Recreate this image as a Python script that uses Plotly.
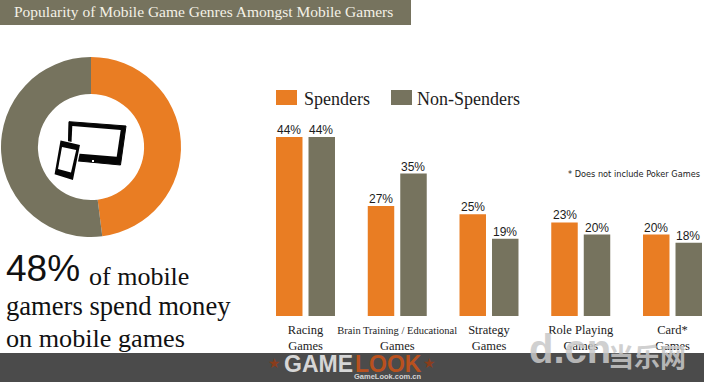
import plotly.graph_objects as go

W, H = 704, 383
categories = ["Racing<br>Games", "<span style='font-size:10.5px'>Brain Training / Educational</span><br>Games",
              "Strategy<br>Games", "Role Playing<br>Games", "Card*<br>Games"]
spenders = [44, 27, 25, 23, 20]
non_spenders = [44, 35, 19, 20, 18]
donut_labels = ["Spend money", "Do not spend"]
donut_values = [48, 52]
series_names = ["Spenders", "Non-Spenders"]
ORANGE, OLIVE = "#E97D23", "#76735E"
SERIF = "Liberation Serif"
SANS = "Liberation Sans"


def px(x):
    return x / W


def py(y):
    return 1 - y / H


def poly(points, fill, line=None, width=0):
    d = "M" + "L".join(f"{px(x):.5f},{py(y):.5f}" for x, y in points) + "Z"
    return dict(type="path", xref="paper", yref="paper", path=d, fillcolor=fill,
                line=dict(color=line or fill, width=width), layer="above")


def rect(x0, y0, x1, y1, fill, layer="above"):
    return dict(type="rect", xref="paper", yref="paper", x0=px(x0), x1=px(x1),
                y0=py(y1), y1=py(y0), fillcolor=fill, line=dict(width=0), layer=layer)


def note(x, y, text, size, color="#1c1c1c", family=SERIF, anchor="left", opacity=1):
    return dict(xref="paper", yref="paper", x=px(x), y=py(y), text=text, showarrow=False,
                xanchor=anchor, yanchor="middle", opacity=opacity, align="left",
                font=dict(size=size, color=color, family=family))


fig = go.Figure()
fig.add_trace(go.Pie(labels=donut_labels, values=donut_values, hole=0.59, sort=False,
                     direction="clockwise", rotation=0, textinfo="none", showlegend=False,
                     marker=dict(colors=[ORANGE, OLIVE], line=dict(width=0)),
                     domain=dict(x=[px(1), px(181)], y=[py(237), py(57)])))
for name, vals, col in zip(series_names, [spenders, non_spenders], [ORANGE, OLIVE]):
    fig.add_trace(go.Bar(name=name, x=categories, y=vals, marker=dict(color=col, line=dict(width=0)),
                         showlegend=False))

shapes = [
    rect(0, 0, 411, 25, OLIVE),
    rect(0, 353, 704, 382, "#4B4B4B"),
    rect(276, 90, 297, 105, ORANGE),
    rect(391, 90, 412, 105, OLIVE),
    # tablet
    poly([(69, 121.7), (126, 126), (120.5, 165), (68, 160)], "#050505", width=1),
    poly([(72.3, 126), (120.7, 130), (116.7, 156.7), (71, 153)], "#ffffff"),
    poly([(92, 160), (94, 160), (94, 162), (92, 162)], "#ffffff"),
    # phone
    poly([(60, 139.5), (81.5, 144), (74, 181.5), (52.5, 176)], "#ffffff"),
    poly([(61.5, 142), (78.5, 146), (72, 178.5), (56, 173.5)], "#050505", width=2.5),
    poly([(62, 147), (76.2, 150), (71, 172.5), (58, 169)], "#ffffff"),
]

annotations = [
    note(12, 11, "Popularity of Mobile Game Genres Amongst Mobile Gamers", 15.5, "#f4f1e6"),
    note(301.5, 99, series_names[0], 18),
    note(414.5, 99, series_names[1], 18),
    note(565.5, 174, "* Does not include Poker Games", 8.2, "#222222", "DejaVu Sans"),
    note(4, 268, "48%", 37, "#111111", SANS),
    note(87, 276, "of mobile", 26, "#111111"),
    note(4, 306, "gamers spend money", 26.6, "#111111"),
    note(4, 338, "on mobile games", 26.2, "#111111"),
    note(282, 364, "<b>GAME</b>", 23, "#d6d6d6", SANS),
    note(353, 364, "<b>LOOK</b>", 23, "#B9511E", SANS),
    note(266, 363, "★", 14, "#8a3d1c", "DejaVu Sans"),
    note(421, 363, "★", 14, "#8a3d1c", "DejaVu Sans"),
    note(352, 376, "<b>GameLook.com.cn</b>", 7.5, "#d6d6d6", SANS),
    note(527, 349, "<b>d.cn</b>", 40, "#c8c8c8", SANS, opacity=0.85),
    note(606, 355, "<b>当乐网</b>", 26, "#c8c8c8", "Noto Sans CJK SC", opacity=0.85),
]

# value labels, placed from the data on the category axis
for offset, vals in zip([-0.177, 0.174], [spenders, non_spenders]):
    for i, v in enumerate(vals):
        annotations.append(dict(xref="x", yref="y", x=i + offset, y=v, text=f"{v}%", showarrow=False,
                                xanchor="center", yanchor="bottom", yshift=-2,
                                font=dict(size=12, color="#1c1c1c", family=SANS)))

fig.update_layout(
    width=W, height=H, margin=dict(l=0, r=0, t=0, b=0), autosize=False,
    paper_bgcolor="#ffffff", plot_bgcolor="rgba(0,0,0,0)",
    barmode="group", bargap=0.2916, bargroupgap=0.185,
    shapes=shapes, annotations=annotations, showlegend=False,
    xaxis=dict(domain=[0, 1], range=[-305.5 / 91.75, (704 - 305.5) / 91.75], type="category",
               showgrid=False, zeroline=False, showline=False, ticks="", automargin=False,
               tickangle=0, ticklabelstandoff=4, tickfont=dict(size=12.5, color="#1c1c1c", family=SERIF)),
    yaxis=dict(domain=[py(316), py(112.5)], range=[0, 50], visible=False, fixedrange=True),
)
fig.write_html("out.html", config={"displayModeBar": False},
               post_script="document.body.style.margin='0';document.body.style.overflow='hidden';")
